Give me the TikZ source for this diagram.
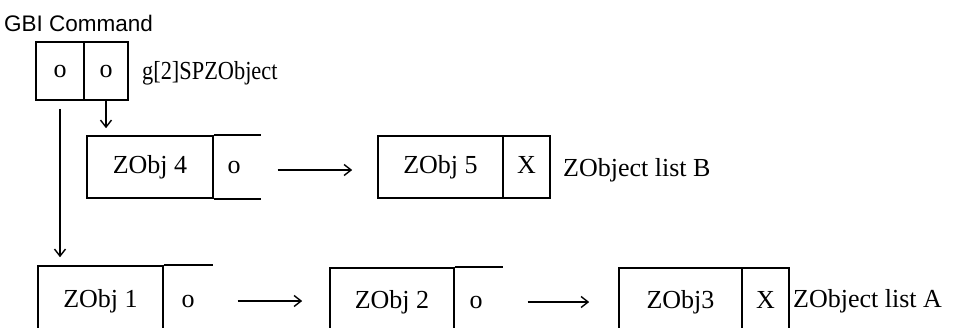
\documentclass[tikz,border=0pt]{standalone}
\usepackage{fontspec}
\setmainfont{Liberation Serif}
\newfontfamily\arialf{Liberation Sans}
\usetikzlibrary{arrows.meta}
\begin{document}
\begin{tikzpicture}[x=1pt,y=-1pt,
  box/.style={draw, line width=1.6pt, inner sep=0pt, text height=18pt, text depth=6pt, font=\fontsize{26}{30}\selectfont},
  txt/.style={inner sep=0pt, text height=18pt, text depth=6pt, font=\fontsize{26}{30}\selectfont},
  edge/.style={line width=1.6pt},
  conn/.style={line width=1.4pt, -{Straight Barb[length=7pt,width=11pt,line width=1.4pt]}},
]
\useasboundingbox (0,0) rectangle (955,327);
% title
\node[anchor=base west, inner sep=0pt, font=\arialf\fontsize{22.5}{26}\selectfont] (title) at (4,31) {GBI Command};
% top pointer box
\node[box, minimum width=48, minimum height=58] (g0) at (60,71) {o};
\node[box, minimum width=44, minimum height=58] (g1) at (106,71) {o};
\node[txt, anchor=base west, xscale=0.86] (gname) at (142,79) {g[2]SPZObject};
% list B
\node[box, minimum width=126, minimum height=62] (z4) at (150,167) {ZObj 4};
\node[txt] (z4n) at (234,167) {o};
\draw[edge] (z4.north east) -- ++(47,0);
\draw[edge] (z4.south east) -- ++(47,0);
\node[box, minimum width=125, minimum height=62] (z5) at (440.5,167) {ZObj 5};
\node[box, minimum width=47, minimum height=62] (z5n) at (526.5,167) {X};
\node[txt, anchor=base west] (lb) at (563,176) {ZObject list B};
% list A
\node[box, minimum width=125, minimum height=70] (z1) at (100.5,301) {ZObj 1};
\node[txt] (z1n) at (188,301) {o};
\draw[edge] (z1.north east) -- ++(49,0);
\node[box, minimum width=124, minimum height=68] (z2) at (392,302) {ZObj 2};
\node[txt] (z2n) at (476,302) {o};
\draw[edge] (z2.north east) -- ++(48,0);
\node[box, minimum width=123, minimum height=68] (z3) at (680.5,302) {ZObj3};
\node[box, minimum width=47, minimum height=68] (z3n) at (765.5,302) {X};
\node[txt, anchor=base west] (la) at (793,307) {ZObject list A};
% connectors
\draw[conn, shorten <=8pt, shorten >=8pt] (g0.south) -- (g0.south |- z1.north);
\draw[conn, shorten >=7pt] (g1.south) -- (g1.south |- z4.north);
\draw[conn] ([xshift=37pt,yshift=-3pt]z4n.east) -- ([xshift=-25pt,yshift=-3pt]z5.west);
\draw[conn] ([xshift=43pt]z1n.east) -- ([xshift=-27pt]z2.west |- z1n.east);
\draw[conn] ([xshift=45pt]z2n.east) -- ([xshift=-29pt]z3.west);
\end{tikzpicture}
\end{document}
